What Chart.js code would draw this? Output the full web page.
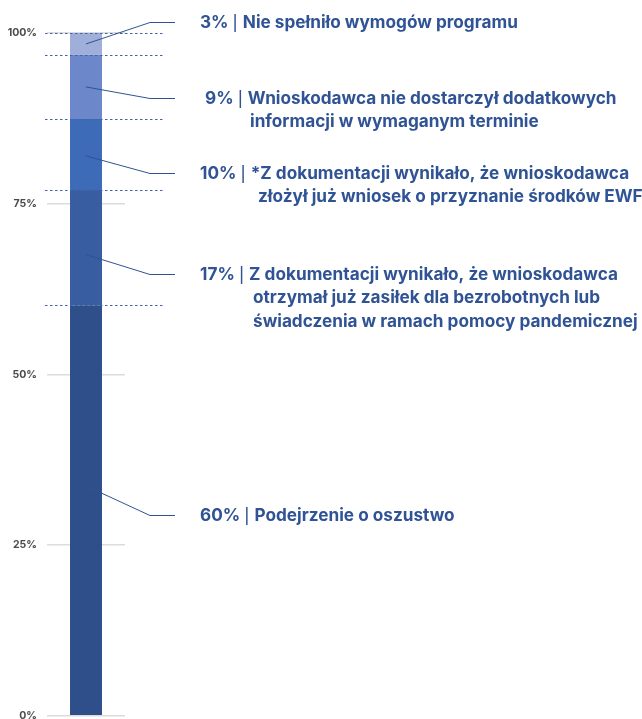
<!DOCTYPE html>
<html>
<head>
<meta charset="utf-8">
<script src="https://cdn.jsdelivr.net/npm/chart.js@4"></script>
<style>
    html, body { margin: 0; padding: 0; background: #fff; overflow: hidden; }
</style>
</head>
<body>
<canvas id="chart" width="642" height="732"></canvas>
<script>
// stacked shares, bottom segment first
const categories = ["Odrzucone wnioski"];
const shares = [60.1, 16.9, 10.4, 9.4, 3.2];
const reasons = [
    ["Podejrzenie o oszustwo"],
    ["Z dokumentacji wynikało, że wnioskodawca", "otrzymał już zasiłek dla bezrobotnych lub", "świadczenia w ramach pomocy pandemicznej"],
    ["*Z dokumentacji wynikało, że wnioskodawca", "złożył już wniosek o przyznanie środków EWF"],
    ["Wnioskodawca nie dostarczył dodatkowych", "informacji w wymaganym terminie"],
    ["Nie spełniło wymogów programu"],
];
const tickValues = [0, 25, 50, 75, 100];

const colors = ["#2e4f8a", "#385da1", "#3e6bb8", "#6c88ca", "#9fafda"];
const textColor = "#2f5394";

// where each callout sits (axis value), where its leader leaves the bar, and text offsets
const calloutAt = [29.4, 64.7, 79.5, 90.5, 101.6];
const leaderFrac = [0.56, 0.44, 0.48, 0.5, 0.5];
const textX = [200, 200, 200, 205, 200];
const indent = [0, 53, 58, 45, 0];

const boldFont = "bold 17.2px Inter";
const pipeFont = "500 15px Inter";

const callouts = {
    id: "callouts",
    afterDatasetsDraw(chart) {
        const ctx = chart.ctx;
        const y = chart.scales.y;
        const area = chart.chartArea;
        const cx = (area.left + area.right) / 2;
        ctx.save();

        // dotted boundaries between segments
        ctx.strokeStyle = "#3f64a8";
        ctx.lineWidth = 1;
        ctx.setLineDash([2.5, 2.5]);
        let sum = 0;
        shares.forEach(function (v) {
            sum += v;
            const py = Math.round(y.getPixelForValue(sum)) + 0.5;
            ctx.beginPath();
            ctx.moveTo(area.left - 2, py);
            ctx.lineTo(165, py);
            ctx.stroke();
        });
        ctx.setLineDash([]);

        // leader lines and texts
        let base = 0;
        ctx.textBaseline = "middle";
        ctx.fillStyle = textColor;
        shares.forEach(function (v, i) {
            const startY = y.getPixelForValue(base + v * leaderFrac[i]);
            base += v;
            const ly = Math.round(y.getPixelForValue(calloutAt[i])) + 0.5;
            ctx.strokeStyle = textColor;
            ctx.lineWidth = 1;
            ctx.beginPath();
            ctx.moveTo(cx, startY);
            ctx.lineTo(150, ly);
            ctx.lineTo(175, ly);
            ctx.stroke();

            reasons[i].forEach(function (line, j) {
                let x = textX[i] + (j === 0 ? 0 : indent[i]);
                const ty = ly + j * 23.8;
                if (j === 0) {
                    // "NN%" bold, a lighter divider, then the reason
                    const pct = Math.round(v) + "% ";
                    ctx.font = boldFont;
                    ctx.fillText(pct, x, ty);
                    x += ctx.measureText(pct).width;
                    ctx.font = pipeFont;
                    ctx.fillText("| ", x, ty + 0.5);
                    x += ctx.measureText("| ").width + 1;
                }
                ctx.font = boldFont;
                ctx.fillText(line, x, ty);
            });
        });
        ctx.restore();
    },
};

const ctx = document.getElementById("chart").getContext("2d");
const myChart = new Chart(ctx, {
    type: "bar",
    data: {
        labels: categories,
        datasets: shares.map(function (v, i) {
            return {
                label: reasons[i][0],
                data: [v],
                backgroundColor: colors[i],
                borderWidth: 0,
                barPercentage: 0.41,
                categoryPercentage: 1,
            };
        }),
    },
    options: {
        responsive: false,
        animation: false,
        layout: { padding: { top: 33, right: 517, bottom: 0, left: 0 } },
        plugins: {
            legend: { display: false },
            tooltip: { enabled: false },
        },
        scales: {
            x: { stacked: true, display: false },
            y: {
                stacked: true,
                min: 0,
                max: 100,
                afterBuildTicks: function (scale) {
                    scale.ticks = tickValues.map(function (v) { return { value: v }; });
                },
                afterFit: function (scale) { scale.width = 47; },
                border: { display: false },
                grid: { color: "#dcdcdc", lineWidth: 1.5, drawTicks: false },
                ticks: {
                    padding: 10,
                    color: "#4a4a4a",
                    font: { family: "Inter", size: 10.5, weight: "bold" },
                    callback: function (v) { return v + "%"; },
                },
            },
        },
    },
    plugins: [callouts],
});
</script>
</body>
</html>
